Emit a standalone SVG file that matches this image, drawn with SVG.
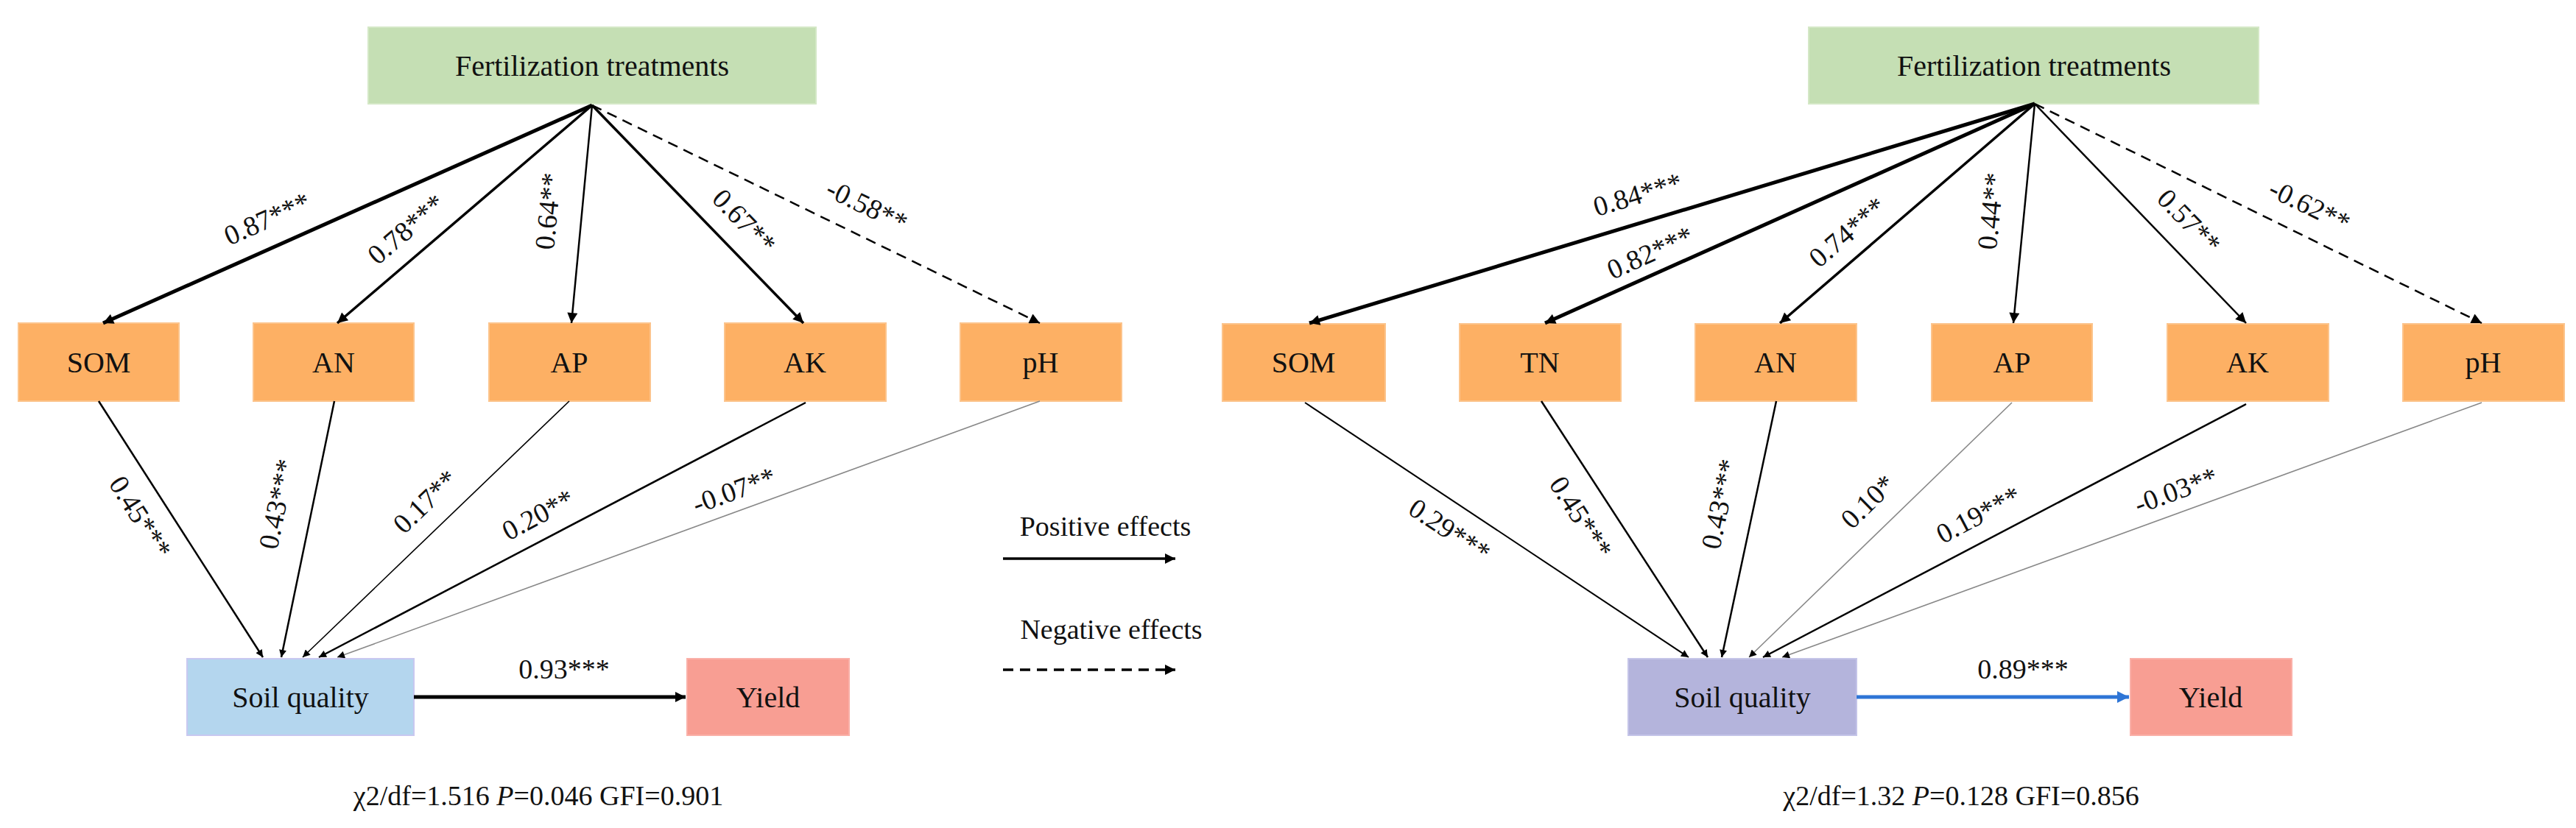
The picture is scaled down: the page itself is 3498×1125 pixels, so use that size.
<svg xmlns="http://www.w3.org/2000/svg" width="3498" height="1125" viewBox="0 0 3498 1125">
<style>
text{font-family:"Liberation Serif","Times New Roman",serif;fill:#111;}
.bt{font-size:40px;text-anchor:middle;dominant-baseline:central;}
.lb{font-size:38px;text-anchor:middle;}
.org{fill:#fdb064;stroke:#fcc48c;stroke-width:2;}
.c{fill:none;stroke:#000;}
.t5{stroke-width:5;} .t4{stroke-width:3.5;} .t3{stroke-width:2.5;} .tg{stroke:#888;stroke-width:1.6;}
</style>
<defs>
<marker id="ah" viewBox="0 0 10 10" refX="10" refY="5" markerWidth="16" markerHeight="14" markerUnits="userSpaceOnUse" orient="auto"><path d="M0,0L10,5L0,10z" fill="#000"/></marker>
<marker id="as" viewBox="0 0 10 10" refX="10" refY="5" markerWidth="12" markerHeight="10" markerUnits="userSpaceOnUse" orient="auto"><path d="M0,0L10,5L0,10z" fill="#000"/></marker>
<marker id="ab" viewBox="0 0 10 10" refX="10" refY="5" markerWidth="18" markerHeight="16" markerUnits="userSpaceOnUse" orient="auto"><path d="M0,0L10,5L0,10z" fill="#2e75d6"/></marker>
</defs>

<!-- Left panel nodes -->
<g id="L_fert"><rect x="500" y="37" width="608" height="104" fill="#c5dfb4" stroke="#d4e8c6" stroke-width="2"/><text class="bt" x="804" y="89">Fertilization treatments</text></g>
<g id="L_som"><rect class="org" x="25" y="439" width="218" height="106"/><text class="bt" x="134" y="492">SOM</text></g>
<g id="L_an"><rect class="org" x="344" y="439" width="218" height="106"/><text class="bt" x="453" y="492">AN</text></g>
<g id="L_ap"><rect class="org" x="664" y="439" width="219" height="106"/><text class="bt" x="773" y="492">AP</text></g>
<g id="L_ak"><rect class="org" x="984" y="439" width="219" height="106"/><text class="bt" x="1093" y="492">AK</text></g>
<g id="L_ph"><rect class="org" x="1304" y="439" width="219" height="106"/><text class="bt" x="1413" y="492">pH</text></g>
<g id="L_soil"><rect x="254" y="895" width="308" height="104" fill="#b4d6ee" stroke="#c8c8f0" stroke-width="2"/><text class="bt" x="408" y="947">Soil quality</text></g>
<g id="L_yield"><rect x="933" y="895" width="220" height="104" fill="#f89e93" stroke="#fab0a8" stroke-width="2"/><text class="bt" x="1043" y="947">Yield</text></g>

<!-- Right panel nodes -->
<g id="R_fert"><rect x="2456" y="37" width="611" height="104" fill="#c5dfb4" stroke="#d4e8c6" stroke-width="2"/><text class="bt" x="2762" y="89">Fertilization treatments</text></g>
<g id="R_som"><rect class="org" x="1660" y="440" width="221" height="105"/><text class="bt" x="1770" y="492">SOM</text></g>
<g id="R_tn"><rect class="org" x="1982" y="440" width="219" height="105"/><text class="bt" x="2091" y="492">TN</text></g>
<g id="R_an"><rect class="org" x="2302" y="440" width="219" height="105"/><text class="bt" x="2411" y="492">AN</text></g>
<g id="R_ap"><rect class="org" x="2623" y="440" width="218" height="105"/><text class="bt" x="2732" y="492">AP</text></g>
<g id="R_ak"><rect class="org" x="2943" y="440" width="219" height="105"/><text class="bt" x="3052" y="492">AK</text></g>
<g id="R_ph"><rect class="org" x="3263" y="440" width="219" height="105"/><text class="bt" x="3372" y="492">pH</text></g>
<g id="R_soil"><rect x="2211" y="895" width="310" height="104" fill="#b4b4dc" stroke="#c4c4e8" stroke-width="2"/><text class="bt" x="2366" y="947">Soil quality</text></g>
<g id="R_yield"><rect x="2893" y="895" width="219" height="104" fill="#f89e93" stroke="#fab0a8" stroke-width="2"/><text class="bt" x="3002" y="947">Yield</text></g>

<g id="connectors">
<!-- left top -->
<line class="c t5" x1="804" y1="143" x2="140" y2="439" marker-end="url(#ah)"/>
<line class="c t4" x1="804" y1="143" x2="458" y2="439" marker-end="url(#ah)"/>
<line class="c t3" x1="804" y1="143" x2="776" y2="439" marker-end="url(#ah)"/>
<line class="c t4" x1="804" y1="143" x2="1091" y2="439" marker-end="url(#ah)"/>
<line class="c t3" x1="804" y1="143" x2="1412" y2="439" stroke-dasharray="14,9" marker-end="url(#ah)"/>
<!-- left bottom -->
<line class="c t3" x1="134" y1="545" x2="357" y2="893" marker-end="url(#as)"/>
<line class="c t3" x1="454" y1="545" x2="382" y2="893" marker-end="url(#as)"/>
<line class="c" stroke-width="1.6" x1="773" y1="545" x2="411" y2="893" marker-end="url(#as)"/>
<line class="c t3" x1="1094" y1="547" x2="433" y2="893" marker-end="url(#as)"/>
<line class="c tg" x1="1412" y1="545" x2="458" y2="893" marker-end="url(#as)"/>
<line class="c t5" x1="562" y1="947" x2="931" y2="947" marker-end="url(#ah)"/>
<!-- legend -->
<line class="c t4" x1="1362" y1="759" x2="1596" y2="759" marker-end="url(#ah)"/>
<line class="c t4" x1="1362" y1="910" x2="1596" y2="910" stroke-dasharray="14,9" marker-end="url(#ah)"/>
<!-- right top -->
<line class="c t5" x1="2763" y1="141" x2="1778" y2="439" marker-end="url(#ah)"/>
<line class="c t5" x1="2763" y1="141" x2="2098" y2="439" marker-end="url(#ah)"/>
<line class="c t4" x1="2763" y1="141" x2="2417" y2="439" marker-end="url(#ah)"/>
<line class="c t3" x1="2763" y1="141" x2="2734" y2="439" marker-end="url(#ah)"/>
<line class="c t3" x1="2763" y1="141" x2="3050" y2="439" marker-end="url(#ah)"/>
<line class="c t3" x1="2763" y1="141" x2="3370" y2="439" stroke-dasharray="14,9" marker-end="url(#ah)"/>
<!-- right bottom -->
<line class="c" stroke-width="2" x1="1772" y1="547" x2="2293" y2="893" marker-end="url(#as)"/>
<line class="c t3" x1="2093" y1="545" x2="2319" y2="893" marker-end="url(#as)"/>
<line class="c t3" x1="2412" y1="545" x2="2338" y2="893" marker-end="url(#as)"/>
<line class="c tg" x1="2732" y1="547" x2="2375" y2="893" marker-end="url(#as)"/>
<line class="c t3" x1="3050" y1="549" x2="2394" y2="893" marker-end="url(#as)"/>
<line class="c tg" x1="3370" y1="547" x2="2420" y2="893" marker-end="url(#as)"/>
<line x1="2521" y1="947" x2="2891" y2="947" stroke="#2e75d6" stroke-width="5" marker-end="url(#ab)"/>
</g>

<g id="labels">
<text class="lb" transform="translate(363,298) rotate(-24)" dy="12">0.87***</text>
<text class="lb" transform="translate(552,312) rotate(-40.5)" dy="12">0.78***</text>
<text class="lb" transform="translate(745,287) rotate(-84.6)" dy="12">0.64**</text>
<text class="lb" transform="translate(1010,301) rotate(46)" dy="12">0.67**</text>
<text class="lb" transform="translate(1177,280) rotate(26)" dy="12">-0.58**</text>
<text class="lb" transform="translate(190,703) rotate(57.5)" dy="12">0.45***</text>
<text class="lb" transform="translate(377,685) rotate(-78.3)" dy="12">0.43***</text>
<text class="lb" transform="translate(578,682) rotate(-44)" dy="12">0.17**</text>
<text class="lb" transform="translate(731,700) rotate(-28)" dy="12">0.20**</text>
<text class="lb" transform="translate(997,667) rotate(-20)" dy="12">-0.07**</text>
<text class="lb" x="766" y="922">0.93***</text>
<text class="lb" x="1501" y="728">Positive effects</text>
<text class="lb" x="1509" y="868">Negative effects</text>
<text class="lb" x="731" y="1094">χ2/df=1.516    <tspan font-style="italic">P</tspan>=0.046    GFI=0.901</text>

<text class="lb" transform="translate(2224,265) rotate(-16.8)" dy="12">0.84***</text>
<text class="lb" transform="translate(2241,344) rotate(-24.1)" dy="12">0.82***</text>
<text class="lb" transform="translate(2509,316) rotate(-40.7)" dy="12">0.74***</text>
<text class="lb" transform="translate(2704,287) rotate(-84.4)" dy="12">0.44**</text>
<text class="lb" transform="translate(2972,301) rotate(46)" dy="12">0.57**</text>
<text class="lb" transform="translate(3136,280) rotate(26)" dy="12">-0.62**</text>
<text class="lb" transform="translate(1968,721) rotate(33.7)" dy="12">0.29***</text>
<text class="lb" transform="translate(2146,703) rotate(57.1)" dy="12">0.45***</text>
<text class="lb" transform="translate(2336,685) rotate(-78)" dy="12">0.43***</text>
<text class="lb" transform="translate(2537,682) rotate(-44.3)" dy="12">0.10*</text>
<text class="lb" transform="translate(2687,700) rotate(-27.8)" dy="12">0.19***</text>
<text class="lb" transform="translate(2955,667) rotate(-20.1)" dy="12">-0.03**</text>
<text class="lb" x="2747" y="922">0.89***</text>
<text class="lb" x="2663" y="1094">χ2/df=1.32    <tspan font-style="italic">P</tspan>=0.128    GFI=0.856</text>
</g>
</svg>
